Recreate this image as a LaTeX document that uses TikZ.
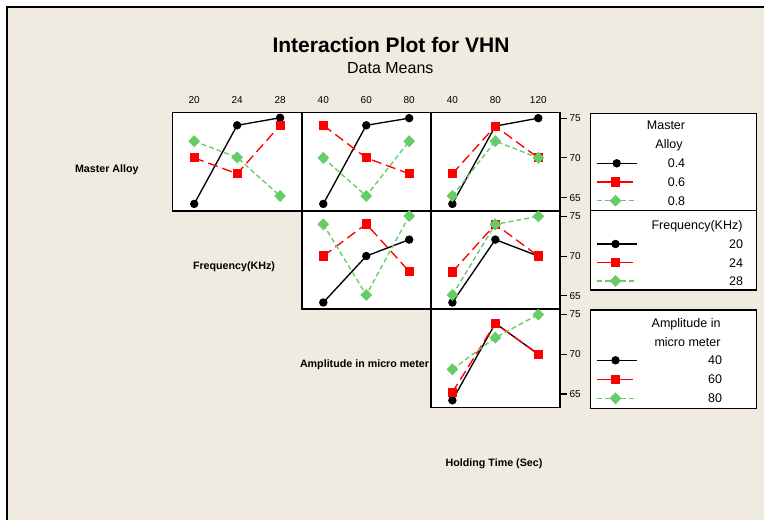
\documentclass[tikz,border=0pt]{standalone}
\usepackage{fontspec}
\setmainfont{Liberation Sans}
\usetikzlibrary{plotmarks}
\definecolor{bg}{RGB}{239,235,225}
\definecolor{mred}{RGB}{255,0,0}
\definecolor{mgreen}{RGB}{102,204,102}
% style, left edge, top edge, three values
\newcommand\plotser[6]{%
  \draw[#1] plot coordinates {({#2+21.48},{#3+(75.7-#4)*7.94}) ({#2+64.45},{#3+(75.7-#5)*7.94}) ({#2+107.4},{#3+(75.7-#6)*7.94})};}
\begin{document}
\begin{tikzpicture}[x=1pt,y=-1pt,
  every node/.style={inner sep=0pt, outer sep=0pt},
  ticklab/.style={font=\fontsize{10}{12}\selectfont},
  leg/.style={font=\fontsize{12.5}{14}\selectfont},
  rowlab/.style={font=\fontsize{10.7}{12}\selectfont\bfseries},
  panel/.style={draw=black, fill=white, line width=1.4pt},
  legbox/.style={draw=black, fill=white, line width=1.4pt},
  sblack/.style={draw=black, line width=1.35pt, mark=*, mark size=3.5pt, mark options={solid, fill=black, draw=black}},
  sred/.style={draw=mred, line width=1.35pt, dash pattern=on 10pt off 5pt, mark=square*, mark size=3.9pt, mark options={solid, fill=mred, draw=mred}},
  sgreen/.style={draw=mgreen, line width=1.35pt, dash pattern=on 5pt off 3pt, mark=diamond*, mark size=5pt, mark options={solid, fill=mgreen, draw=mgreen, xscale=1.3}},
  lblack/.style={draw=black, line width=1.35pt},
  lred/.style={draw=mred, line width=1.35pt},
  lgreen/.style={draw=mgreen, line width=1.35pt, dash pattern=on 5pt off 3pt},
]
\useasboundingbox (0,0) rectangle (764,520);
\fill[white] (0,0) rectangle (764,520);
\fill[bg] (7,7) rectangle (764,520);
\draw[line width=2pt] (764,7) -- (7,7) -- (7,520);

% title
\node[font=\fontsize{21}{25}\selectfont\bfseries, anchor=base] (title) at (391,52.7) {Interaction Plot for VHN};
\node[font=\fontsize{16}{19}\selectfont, anchor=base] (subtitle) at (390.3,73.3) {Data Means};

% panels
\draw[panel] (172.7,112.6) rectangle (301.8,210.8);
\draw[panel] (301.8,112.6) rectangle (430.9,210.8);
\draw[panel] (430.9,112.6) rectangle (559.8,210.8);
\draw[panel] (301.8,210.8) rectangle (430.9,309);
\draw[panel] (430.9,210.8) rectangle (559.8,309);
\draw[panel] (430.9,309) rectangle (559.8,407.2);

% top tick labels
\node[ticklab] (xa1) at (194.2,99.7) {20};
\node[ticklab] (xa2) at (237.15,99.7) {24};
\node[ticklab] (xa3) at (280.1,99.7) {28};
\node[ticklab] (xb1) at (323.3,99.7) {40};
\node[ticklab] (xb2) at (366.25,99.7) {60};
\node[ticklab] (xb3) at (409.2,99.7) {80};
\node[ticklab] (xc1) at (452.4,99.7) {40};
\node[ticklab] (xc2) at (495.35,99.7) {80};
\node[ticklab] (xc3) at (538.3,99.7) {120};

% right ticks
\foreach \T [count=\r] in {112.6,210.8,309}{
  \foreach \v in {75,70,65}{
    \draw[line width=1.1pt] (559.8,{\T+(75.7-\v)*7.94}) -- ++(6.7,0)
      node[ticklab, anchor=west, xshift=3pt] (yt\r-\v) {\v};
  }
}

% row labels
\node[rowlab, anchor=base west] (labMA) at (75,172) {Master Alloy};
\node[rowlab, anchor=base west] (labFr) at (193,269.5) {Frequency(KHz)};
\node[rowlab, anchor=base west] (labAm) at (300,367.7) {Amplitude in micro meter};
\node[rowlab, anchor=base] (labHT) at (494,466) {Holding Time (Sec)};

% row 1: Master Alloy
\plotser{sblack}{172.7}{112.6}{64.2}{74.1}{75.05}
\plotser{sred}{172.7}{112.6}{70}{68}{74.1}
\plotser{sgreen}{172.7}{112.6}{72.1}{70.05}{65.2}
\plotser{sblack}{301.8}{112.6}{64.2}{74.1}{75.0}
\plotser{sred}{301.8}{112.6}{74.1}{70}{68}
\plotser{sgreen}{301.8}{112.6}{70}{65.2}{72.1}
\plotser{sblack}{430.9}{112.6}{64.2}{74.0}{75.0}
\plotser{sred}{430.9}{112.6}{68}{74.0}{70}
\plotser{sgreen}{430.9}{112.6}{65.2}{72.1}{70}
% row 2: Frequency
\plotser{sblack}{301.8}{210.8}{64.15}{70}{72.07}
\plotser{sred}{301.8}{210.8}{70}{74.04}{68.06}
\plotser{sgreen}{301.8}{210.8}{74}{65.1}{75.05}
\plotser{sblack}{430.9}{210.8}{64.15}{72.07}{70}
\plotser{sred}{430.9}{210.8}{68}{74}{70}
\plotser{sgreen}{430.9}{210.8}{65.1}{74}{75}
% row 3: Amplitude
\plotser{sblack}{430.9}{309}{64.2}{73.9}{70}
\plotser{sred}{430.9}{309}{65.2}{73.9}{70}
\plotser{sgreen}{430.9}{309}{68.1}{72.1}{75}

% legends
\draw[legbox] (590.7,113.3) rectangle (756.7,210.7);
\draw[legbox] (590.7,210.7) rectangle (756.7,290);
\draw[legbox] (590.7,310) rectangle (756.7,408.3);

\node[leg, anchor=base] (l1t1) at (666,129.5) {Master};
\node[leg, anchor=base] (l1t2) at (669,148.8) {Alloy};
\node[leg, anchor=base east] (l2t) at (742.5,229.5) {Frequency(KHz)};
\node[leg, anchor=base east] (l3t1) at (720.5,327.8) {Amplitude in};
\node[leg, anchor=base east] (l3t2) at (720.5,346.2) {micro meter};

% legend 1 rows
\draw[lblack] (596.7,163.3) -- (636.7,163.3);
\draw[sblack] plot coordinates {(616.7,163.3)};
\node[leg, anchor=base] (l1v1) at (676.5,167.8) {0.4};
\draw[lred] (596.7,182) -- (632.7,182);
\draw[sred] plot coordinates {(615.5,182)};
\node[leg, anchor=base] (l1v2) at (676.5,186.5) {0.6};
\draw[lgreen] (596.7,200.7) -- (636.7,200.7);
\draw[sgreen] plot coordinates {(615.5,200.7)};
\node[leg, anchor=base] (l1v3) at (676.5,205.2) {0.8};

% legend 2 rows
\draw[lblack] (596.7,244) -- (636.7,244);
\draw[sblack] plot coordinates {(615.5,244)};
\node[leg, anchor=base east] (l2v1) at (743,248.5) {20};
\draw[lred] (596.7,262.7) -- (632.7,262.7);
\draw[sred] plot coordinates {(615.5,262.7)};
\node[leg, anchor=base east] (l2v2) at (743,267.2) {24};
\draw[lgreen] (596.7,281) -- (636.7,281);
\draw[sgreen] plot coordinates {(615.5,281)};
\node[leg, anchor=base east] (l2v3) at (743,285.5) {28};

% legend 3 rows
\draw[lblack] (596.7,360.3) -- (636.7,360.3);
\draw[sblack] plot coordinates {(615.5,360.3)};
\node[leg, anchor=base east] (l3v1) at (722,364.8) {40};
\draw[lred] (596.7,379.3) -- (632.7,379.3);
\draw[sred] plot coordinates {(615.5,379.3)};
\node[leg, anchor=base east] (l3v2) at (722,383.8) {60};
\draw[lgreen] (596.7,398.3) -- (636.7,398.3);
\draw[sgreen] plot coordinates {(615.5,398.3)};
\node[leg, anchor=base east] (l3v3) at (722,402.8) {80};
\end{tikzpicture}
\end{document}
